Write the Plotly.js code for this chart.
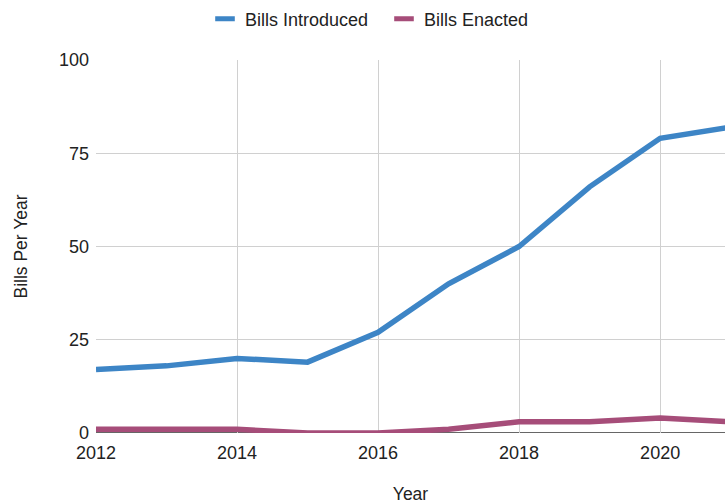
<!DOCTYPE html>
<html>
<head>
<meta charset="utf-8">
<script src="https://cdn.plot.ly/plotly-3.0.1.min.js"></script>
<style>html,body{margin:0;padding:0;overflow:hidden;background:#fff;}</style>
</head>
<body>
<div id="chart" style="width:725px;height:504px;"></div>
<script>
var years = [2012, 2013, 2014, 2015, 2016, 2017, 2018, 2019, 2020, 2021];
var billsIntroduced = [17, 18, 20, 19, 27, 40, 50, 66, 79, 82];
var billsEnacted = [1, 1, 1, 0, 0, 1, 3, 3, 4, 3];
var seriesNames = ['Bills Introduced', 'Bills Enacted'];
var seriesColors = ['#3d85c6', '#a64d79'];
var xTicks = [2012, 2014, 2016, 2018, 2020];
var yTicks = [0, 25, 50, 75, 100];

var fam = 'Liberation Sans, Arial, sans-serif';
var traces = [
  {x: years, y: billsIntroduced, name: seriesNames[0], type: 'scatter', mode: 'lines',
   line: {color: seriesColors[0], width: 5.5}, showlegend: false},
  {x: years, y: billsEnacted, name: seriesNames[1], type: 'scatter', mode: 'lines',
   line: {color: seriesColors[1], width: 5.5}, showlegend: false}
];
// legend entries with short swatches
seriesNames.forEach(function (n, i) {
  traces.push({x: [null], y: [null], name: n, type: 'scatter', mode: 'markers',
    marker: {symbol: 'line-ew-open', size: 14, color: seriesColors[i],
             line: {color: seriesColors[i], width: 6}}, showlegend: true});
});

var layout = {
  width: 725, height: 504,
  margin: {l: 96, r: 0, t: 60, b: 71},
  paper_bgcolor: '#fff', plot_bgcolor: '#fff',
  font: {family: fam, color: '#222'},
  showlegend: true,
  legend: {orientation: 'h', x: (216 - 96 - 11) / 629, xanchor: 'left', y: 1.11, yanchor: 'middle',
           font: {family: fam, size: 18, color: '#222'}, itemwidth: 30, tracegroupgap: 0,
           entrywidth: 134, entrywidthmode: 'pixels'},
  xaxis: {
    range: [2012, 2020.92], tickvals: xTicks, ticktext: xTicks.map(String),
    showgrid: true, gridcolor: '#d0d0d0', gridwidth: 1,
    zeroline: false, showline: false, ticks: '', ticklabelstandoff: 7,
    tickfont: {family: fam, size: 18, color: '#222'},
    title: {text: 'Year', font: {family: fam, size: 17.5, color: '#222'}, standoff: 28}
  },
  yaxis: {
    range: [0, 100], tickvals: yTicks,
    showgrid: true, gridcolor: '#d0d0d0', gridwidth: 1,
    zeroline: false, showline: false, ticks: '', ticklabelstandoff: 6,
    tickfont: {family: fam, size: 18, color: '#222'},
    title: {text: 'Bills Per Year', font: {family: fam, size: 17.5, color: '#222'}, standoff: 26}
  },
  shapes: [{type: 'line', xref: 'paper', yref: 'y', x0: 0, x1: 1, y0: 0, y1: 0,
            line: {color: '#333', width: 1.5}, layer: 'below'}]
};
Plotly.newPlot('chart', traces, layout, {displayModeBar: false, staticPlot: true});
</script>
</body>
</html>
